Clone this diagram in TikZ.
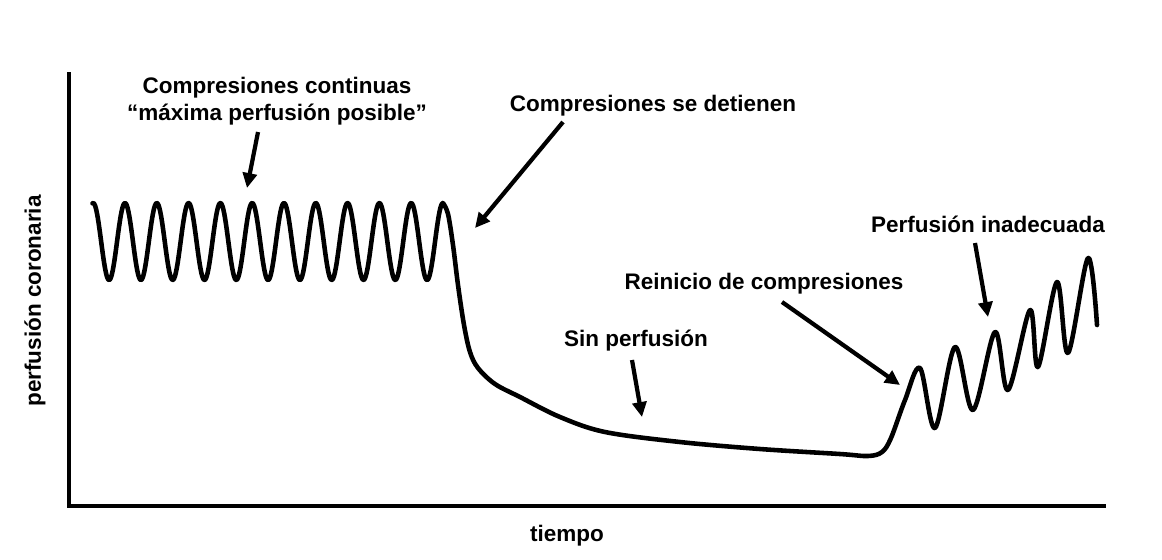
\documentclass[tikz,border=0pt]{standalone}
\usepackage{fontspec}
\setmainfont{Liberation Sans}
\usetikzlibrary{arrows.meta}

\begin{document}
\begin{tikzpicture}[x=0.02cm, y=-0.02cm,
    lbl/.style={font=\bfseries\fontsize{12.8}{15}\selectfont, anchor=base, inner sep=0pt},
    pointer/.style={line width=2.4pt, -{Triangle[length=8.5pt, width=8pt]}},
    signal/.style={line width=2.6pt, line cap=round, line join=round},
    axisline/.style={line width=2.3pt, line join=miter}]
    \useasboundingbox (0, 0) rectangle (1162, 559);

    % Axes
    \draw[axisline] (69, 72) -- (69, 506) -- (1106, 506);
    \node[lbl, anchor=center, rotate=90] (yname) at (35, 301) {perfusión coronaria};
    \node[lbl] (xname) at (567, 541) {tiempo};

    % Perfusion trace: continuous compressions, stop, restart
    \draw[signal] plot[domain=92.5:443, samples=400] (\x, {241.5 - 38.5*cos((\x-125)*11.3208)})
        -- plot[smooth, tension=0.55] coordinates {(443, 203) (448, 214) (453, 245) (458, 285)
        (464, 325) (470, 352) (478, 368) (495, 384) (520, 397) (560, 417) (605, 432)
        (680, 442) (760, 449) (840, 454) (868, 456) (882, 452) (891, 438) (905, 400)
        (920, 368) (935, 428) (955, 347) (973, 410) (995, 332) (1008, 390) (1030, 310)
        (1038, 367) (1057, 282) (1068, 353) (1088, 258) (1097, 325)};

    % Labels
    \node[lbl] (cont) at (277, 93) {Compresiones continuas};
    \node[lbl] (maxima) at (277, 120) {“máxima perfusión posible”};
    \node[lbl] (stop) at (653, 111) {Compresiones se detienen};
    \node[lbl] (noflow) at (636, 346) {Sin perfusión};
    \node[lbl] (restart) at (764, 289) {Reinicio de compresiones};
    \node[lbl] (poor) at (988, 232) {Perfusión inadecuada};

    % Arrow tips on the trace
    \coordinate (t1) at (247, 188);
    \coordinate (t2) at (475, 228);
    \coordinate (t3) at (642, 417);
    \coordinate (t4) at (900, 385);
    \coordinate (t5) at (988, 317);

    % Arrows
    \draw[pointer] (maxima.base) ++(-19, 12) -- (t1);
    \draw[pointer] (stop.base) ++(-90, 11) -- (t2);
    \draw[pointer] (noflow.base) ++(-4, 14) -- (t3);
    \draw[pointer] (restart.base) ++(18, 13) -- (t4);
    \draw[pointer] (poor.base) ++(-13, 11) -- (t5);
\end{tikzpicture}
\end{document}
